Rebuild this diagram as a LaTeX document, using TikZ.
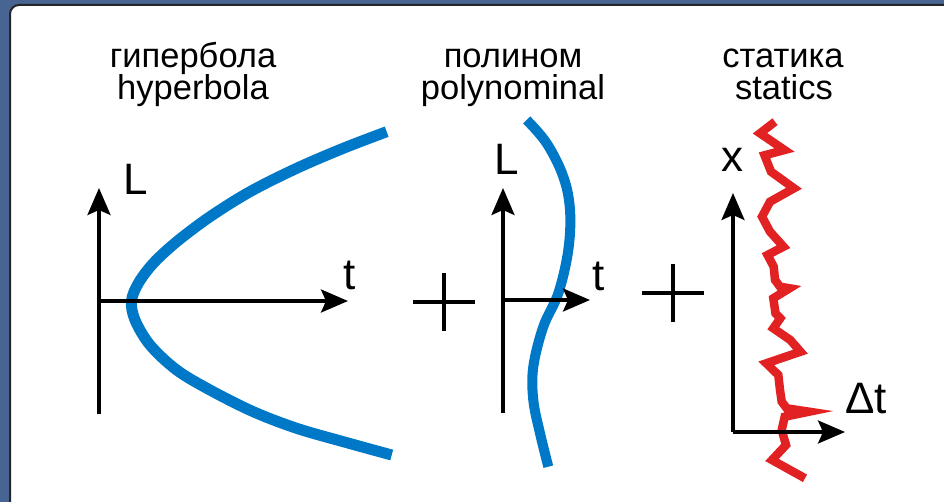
\documentclass[tikz,border=0pt]{standalone}
\usepackage{fontspec}
\setmainfont{Liberation Sans}
\usetikzlibrary{arrows.meta}
\definecolor{framebg}{RGB}{72,100,146}
\definecolor{curveblue}{RGB}{0,120,200}
\definecolor{noisered}{RGB}{226,34,34}
\tikzset{
  axis/.style={line width=3.2pt, black, -{Stealth[length=27pt,width=23pt,inset=5pt]}},
  axisline/.style={line width=3.2pt, black},
  curve/.style={line width=11pt, curveblue, line cap=butt},
  noise/.style={line width=8.5pt, noisered, line join=miter, miter limit=10},
  title/.style={font=\fontsize{34.5}{40}\selectfont, anchor=base, inner sep=0pt},
  axlabel/.style={font=\fontsize{44}{50}\selectfont, inner sep=0pt},
  plussign/.style={line width=3.3pt, black},
}
\begin{document}
\begin{tikzpicture}[x=1pt,y=-1pt]
\useasboundingbox (0,0) rectangle (944,502);
\clip (0,0) rectangle (944,502);
% frame
\fill[framebg] (0,0) rectangle (944,502);
\draw[fill=white, line width=2pt, draw=black!85, rounded corners=9pt] (10,5) rectangle (980,540);

% titles
\node[title] (t1a) at (193,68) {гипербола};
\node[title] (t1b) at (193,100) {hyperbola};
\node[title] (t2a) at (513,68) {полином};
\node[title] (t2b) at (513,100) {polynominal};
\node[title] (t3a) at (783,68) {статика};
\node[title] (t3b) at (784,100) {statics};

% hyperbola
\draw[curve] plot[smooth, tension=0.55] coordinates {
  (386.7,131.7) (343.3,148.3) (296.7,168.3) (250,191.7) (210,216.7) (176.7,241.7)
  (153.3,263.3) (138.3,283.3) (131.5,301) (135,320) (150,345) (176.7,370)
  (210,390) (253.3,411.7) (296.7,428.3) (343.3,441.7) (391.7,455)};

% polynomial
\draw[curve, line width=10pt] plot[smooth, tension=0.6] coordinates {
  (526.7,120) (546.7,143.3) (563.3,176.7) (570,210) (568.3,250) (558.3,293.3)
  (543.3,326.7) (533.3,366.7) (533.3,400) (540,433.3) (548.3,466.7)};

% statics noise
\draw[noise] (775,121.7) -- (760,133.3) -- (784.5,150) -- (764.5,155.3) -- (771,171.7)
  -- (794,188.3) -- (770,201.7) -- (762,216.7) -- (770,231.7) -- (783.5,246.7)
  -- (767.5,255) -- (773.7,266.7) -- (775,280) -- (780,286.7) -- (789.5,288.3)
  -- (773.3,298.3) -- (775.5,313.3) -- (780.3,318.3) -- (773.3,328.3) -- (790.3,340)
  -- (800.5,351.7) -- (766.3,363.3) -- (778.3,375) -- (780,390) -- (781.7,401.7)
  -- (786.7,408.3) -- (809,411.7) -- (784.7,416.7) -- (781.7,430) -- (786,445)
  -- (772,460) -- (805,478.3);

% axes: hyperbola
\coordinate (o1) at (99,301);
\coordinate (b1) at (99,414);
\coordinate (y1) at (99,188);
\coordinate (x1) at (348,301);
\draw[axisline] (b1) -- (o1);
\draw[axis] (o1) -- (y1);
\draw[axis] (o1) -- (x1);
\node[axlabel] (L1) at (136,179) {L};
\node[axlabel] (tt1) at (350,275) {t};

% axes: polynomial
\coordinate (o2) at (503,300);
\coordinate (b2) at (503,413);
\coordinate (y2) at (503,188);
\coordinate (x2) at (590,300);
\draw[axisline] (b2) -- (o2);
\draw[axis] (o2) -- (y2);
\draw[axis] (o2) -- (x2);
\node[axlabel] (L2) at (507,159) {L};
\node[axlabel] (tt2) at (599,276) {t};

% axes: statics
\coordinate (o3) at (733,432);
\coordinate (y3) at (733,193);
\coordinate (x3) at (845,432);
\draw[axis] (o3) -- (y3);
\draw[axis] (o3) -- (x3);
\node[axlabel] (X3) at (732,160) {x};
\node[axlabel] (dt3) at (866,399) {Δt};

% plus signs
\coordinate (p1) at (444,302);
\draw[plussign] ([xshift=-31pt]p1) -- ([xshift=31pt]p1);
\draw[plussign] ([yshift=-29pt]p1) -- ([yshift=29pt]p1);
\coordinate (p2) at (673,293);
\draw[plussign] ([xshift=-31pt]p2) -- ([xshift=31pt]p2);
\draw[plussign] ([yshift=-29pt]p2) -- ([yshift=29pt]p2);
\end{tikzpicture}
\end{document}
